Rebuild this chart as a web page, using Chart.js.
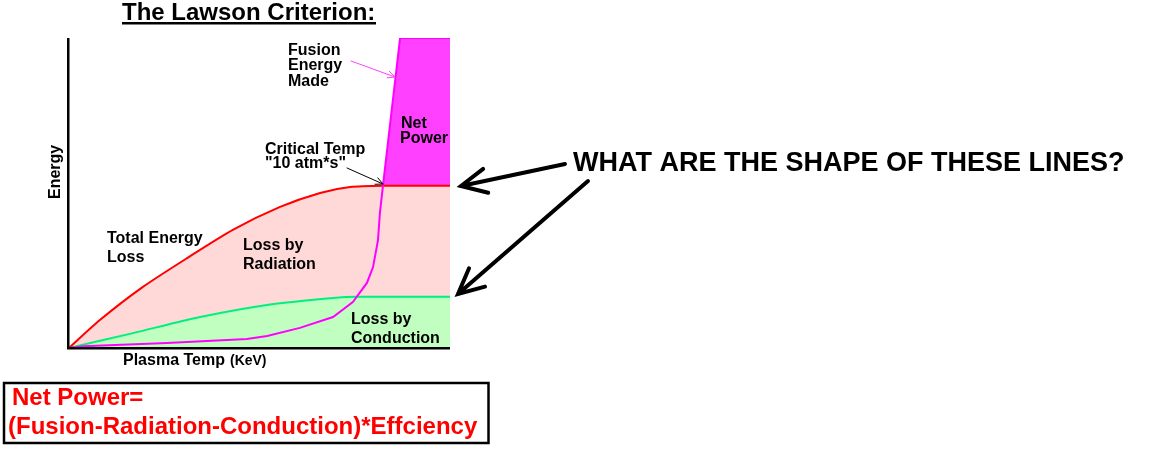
<!DOCTYPE html>
<html>
<head>
<meta charset="utf-8">
<title>The Lawson Criterion</title>
<script src="https://cdn.jsdelivr.net/npm/chart.js@4.4.1/dist/chart.umd.min.js"></script>
<style>
    body { margin: 0; background: #ffffff; }
    canvas { display: block; }
</style>
</head>
<body>
<canvas id="myChart" width="1162" height="452"></canvas>
<script>
// Plasma temp (arbitrary units 0-10) and energy (arbitrary units 0-10)
const totalLossTemp = [0, 0.81, 1.94, 3.10, 4.30, 5.54, 6.59, 7.38, 8.24, 10];
const totalLoss     = [0, 0.90, 1.97, 2.90, 3.81, 4.55, 5.00, 5.19, 5.23, 5.23];

const conductionTemp = [0, 1.68, 3.44, 5.20, 6.93, 7.56, 10];
const conductionLoss = [0, 0.48, 1.00, 1.39, 1.61, 1.65, 1.65];

const fusionTemp = [0, 0.37, 2.57, 4.67, 5.20, 6.06, 6.93, 7.45, 7.82, 7.98, 8.11, 8.16, 8.24, 8.69, 10];
const fusionMade = [0, 0.06, 0.16, 0.29, 0.39, 0.65, 1.00, 1.48, 2.10, 2.61, 3.48, 4.35, 5.23, 10, 10];

function puntos(xs, ys) {
    return xs.map(function(x, i) {
        return { x: x, y: ys[i] };
    });
}

// flecha simple
function flecha(ctx, x1, y1, x2, y2, largo, color, ancho) {
    const ang = Math.atan2(y2 - y1, x2 - x1);
    ctx.strokeStyle = color;
    ctx.lineWidth = ancho;
    ctx.lineCap = 'round';
    ctx.beginPath();
    ctx.moveTo(x1, y1);
    ctx.lineTo(x2, y2);
    ctx.moveTo(x2 - largo * Math.cos(ang - 0.45), y2 - largo * Math.sin(ang - 0.45));
    ctx.lineTo(x2, y2);
    ctx.lineTo(x2 - largo * Math.cos(ang + 0.45), y2 - largo * Math.sin(ang + 0.45));
    ctx.stroke();
}

const textos = {
    id: 'textos',
    afterDraw: function(chart) {
        const ctx = chart.ctx;
        const area = chart.chartArea;
        ctx.save();

        /* ejes */
        ctx.fillStyle = '#000000';
        ctx.fillRect(area.left - 2, area.top, 2.5, area.bottom - area.top + 1);
        ctx.fillRect(area.left - 2, area.bottom - 1, area.right - area.left + 2, 2.5);

        /* titulo */
        ctx.font = 'bold 24px "Liberation Sans", Arial, sans-serif';
        ctx.fillText('The Lawson Criterion:', 122, 20);
        ctx.fillRect(122, 22, 254, 2.5);

        /* etiquetas del grafico */
        ctx.font = 'bold 16px "Liberation Sans", Arial, sans-serif';
        ctx.fillText('Fusion', 288, 55);
        ctx.fillText('Energy', 288, 70);
        ctx.fillText('Made', 288, 86);
        ctx.fillText('Net', 401, 128);
        ctx.fillText('Power', 400, 143);
        ctx.fillText('Critical Temp', 265, 154);
        ctx.fillText('"10 atm*s"', 265, 168);
        ctx.fillText('Total Energy', 107, 243);
        ctx.fillText('Loss', 107, 262);
        ctx.fillText('Loss by', 243, 250);
        ctx.fillText('Radiation', 243, 269);
        ctx.fillText('Loss by', 351, 324);
        ctx.fillText('Conduction', 351, 343);

        ctx.fillText('Plasma Temp', 123, 365);
        const anchoPT = ctx.measureText('Plasma Temp').width;
        ctx.font = 'bold 14px "Liberation Sans", Arial, sans-serif';
        ctx.fillText('(KeV)', 123 + anchoPT + 5, 365);

        ctx.save();
        ctx.translate(60, 199);
        ctx.rotate(-Math.PI / 2);
        ctx.font = 'bold 16px "Liberation Sans", Arial, sans-serif';
        ctx.fillText('Energy', 0, 0);
        ctx.restore();

        /* flechas chicas */
        flecha(ctx, 351, 61, 395, 77, 8, '#ff40ff', 1);
        flecha(ctx, 347, 168, 383, 184, 8, '#000000', 1);

        /* pregunta y flechas grandes */
        ctx.fillStyle = '#000000';
        ctx.font = 'bold 27px "Liberation Sans", Arial, sans-serif';
        ctx.fillText('WHAT ARE THE SHAPE OF THESE LINES?', 573, 171, 560);
        flecha(ctx, 565, 164, 461, 186, 28, '#000000', 4);
        flecha(ctx, 588, 181, 458, 294, 28, '#000000', 4);

        /* formula */
        ctx.strokeStyle = '#000000';
        ctx.lineWidth = 2.5;
        ctx.strokeRect(4, 383, 484.5, 60);
        ctx.fillStyle = '#ff0000';
        ctx.font = 'bold 24px "Liberation Sans", Arial, sans-serif';
        ctx.fillText('Net Power=', 12, 405);
        ctx.fillText('(Fusion-Radiation-Conduction)*Effciency', 8, 434);

        ctx.restore();
    }
};

var ctx = document.querySelector('#myChart');
var myChart = new Chart(ctx, {
    type: 'line',
    data: {
        datasets: [{
            label: 'Fusion Energy Made',
            data: puntos(fusionTemp, fusionMade),
            borderColor: '#ff00ff',
            borderWidth: 2,
            tension: 0,
            fill: { target: 1, above: '#ff40ff', below: 'rgba(0,0,0,0)' }
        }, {
            label: 'Total Energy Loss',
            data: puntos(totalLossTemp, totalLoss),
            borderColor: '#ff0000',
            borderWidth: 2,
            tension: 0.25,
            backgroundColor: '#ffd8d8',
            fill: 2
        }, {
            label: 'Loss by Conduction',
            data: puntos(conductionTemp, conductionLoss),
            borderColor: '#00f080',
            borderWidth: 2,
            tension: 0.25,
            backgroundColor: '#c0ffc0',
            fill: 'origin'
        }]
    },
    options: {
        responsive: false,
        animation: false,
        devicePixelRatio: 1,
        layout: {
            padding: { left: 69, top: 38, right: 712, bottom: 104 }
        },
        elements: {
            point: { radius: 0 }
        },
        scales: {
            x: { type: 'linear', min: 0, max: 10, display: false },
            y: { type: 'linear', min: 0, max: 10, display: false }
        },
        plugins: {
            legend: { display: false },
            tooltip: { enabled: false },
            filler: { drawTime: 'beforeDatasetsDraw' }
        }
    },
    plugins: [textos]
});
</script>
</body>
</html>
